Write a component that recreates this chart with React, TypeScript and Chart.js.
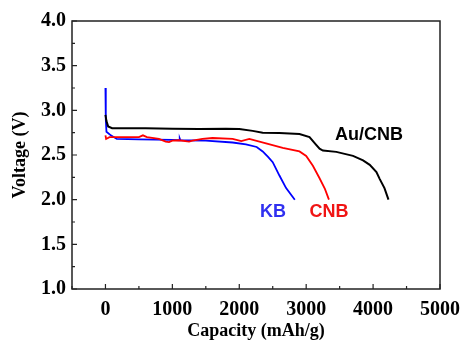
import React, { useEffect, useRef } from "react";
import { Chart, registerables } from "chart.js";

Chart.register(...registerables);

// Au/CNB (black)
const auCap = [0, 15, 40, 100, 300, 600, 1000, 1400, 1800, 2000, 2200, 2350, 2600, 2900, 3050, 3130, 3200, 3250, 3450, 3700, 3850, 3950, 4050, 4100, 4170, 4230];
const auV = [2.95, 2.88, 2.82, 2.8, 2.8, 2.8, 2.795, 2.79, 2.795, 2.79, 2.77, 2.75, 2.745, 2.735, 2.7, 2.63, 2.57, 2.55, 2.535, 2.49, 2.44, 2.39, 2.31, 2.23, 2.13, 2.0];

// CNB (red)
const cnbCap = [0, 10, 60, 300, 500, 560, 620, 800, 900, 950, 1000, 1100, 1250, 1300, 1450, 1600, 1900, 2030, 2150, 2400, 2650, 2900, 3000, 3100, 3200, 3280, 3340];
const cnbV = [2.72, 2.68, 2.7, 2.7, 2.7, 2.72, 2.7, 2.68, 2.65, 2.645, 2.66, 2.665, 2.65, 2.66, 2.68, 2.69, 2.68, 2.655, 2.68, 2.63, 2.58, 2.54, 2.49, 2.38, 2.24, 2.12, 2.0];

// KB (blue)
const kbCap = [0, 5, 15, 80, 170, 500, 1000, 1100, 1110, 1120, 1500, 1900, 2100, 2260, 2350, 2430, 2500, 2600, 2700, 2830];
const kbV = [3.25, 2.9, 2.76, 2.72, 2.68, 2.675, 2.67, 2.665, 2.685, 2.665, 2.66, 2.64, 2.62, 2.59, 2.54, 2.48, 2.42, 2.27, 2.13, 2.0];

const xTickValues = [0, 1000, 2000, 3000, 4000, 5000];
const yTickValues = [1.0, 1.5, 2.0, 2.5, 3.0, 3.5, 4.0];

const seriesLabels = ["Au/CNB", "CNB", "KB"];

// text annotations (data coordinates)
const annotations = [
  { text: "Au/CNB", x: 3939, y: 2.724, color: "#000000" },
  { text: "KB", x: 2504, y: 1.862, color: "#3030f0" },
  { text: "CNB", x: 3341, y: 1.862, color: "#f01414" },
];

const toPts = (xs: number[], ys: number[]) => xs.map((v, i) => ({ x: v, y: ys[i] }));

const framePlugin = {
  id: "frameTicks",
  afterDraw(chart: any) {
    const { ctx, chartArea } = chart;
    const { left, right, top, bottom } = chartArea;
    const xs = chart.scales.x;
    const ys = chart.scales.y;
    ctx.save();
    ctx.strokeStyle = "#222222";
    ctx.lineWidth = 1.5;
    ctx.strokeRect(left, top, right - left, bottom - top);
    ctx.lineWidth = 1.2;
    ctx.beginPath();
    for (let v = -500; v <= 5000; v += 500) {
      const px = xs.getPixelForValue(v);
      const len = v % 1000 === 0 ? 5 : 3;
      ctx.moveTo(px, bottom);
      ctx.lineTo(px, bottom - len);
    }
    for (let v = 1.0; v <= 4.0001; v += 0.25) {
      const py = ys.getPixelForValue(v);
      const len = Math.abs(v * 2 - Math.round(v * 2)) < 1e-6 ? 5 : 3;
      ctx.moveTo(left, py);
      ctx.lineTo(left + len, py);
    }
    ctx.stroke();
    ctx.font = 'bold 18px "Liberation Sans", Arial, sans-serif';
    ctx.textAlign = "center";
    ctx.textBaseline = "middle";
    for (const a of annotations) {
      ctx.fillStyle = a.color;
      ctx.fillText(a.text, xs.getPixelForValue(a.x), ys.getPixelForValue(a.y));
    }
    ctx.restore();
  },
};

export default function App() {
  const ref = useRef<HTMLCanvasElement | null>(null);
  useEffect(() => {
    if (!ref.current) return;
    const serif = '"Liberation Serif", "Times New Roman", serif';
    const chart = new Chart(ref.current, {
      type: "line",
      data: {
        datasets: [
          { label: seriesLabels[0], data: toPts(auCap, auV), borderColor: "#000000", borderWidth: 2, pointRadius: 0, tension: 0 },
          { label: seriesLabels[1], data: toPts(cnbCap, cnbV), borderColor: "#ff0000", borderWidth: 1.8, pointRadius: 0, tension: 0 },
          { label: seriesLabels[2], data: toPts(kbCap, kbV), borderColor: "#0000ff", borderWidth: 1.8, pointRadius: 0, tension: 0 },
        ],
      },
      options: {
        responsive: false,
        animation: false,
        layout: { padding: { left: 0, right: 21, top: 21, bottom: 0 } },
        plugins: { legend: { display: false }, tooltip: { enabled: false } },
        scales: {
          x: {
            type: "linear",
            min: -500,
            max: 5000,
            grid: { display: false, drawTicks: false },
            border: { display: false },
            afterBuildTicks: (s: any) => {
              s.ticks = xTickValues.map((v) => ({ value: v }));
            },
            afterFit: (s: any) => {
              s.height = 56;
              s.paddingLeft = 0;
              s.paddingRight = 0;
            },
            ticks: {
              color: "#000",
              padding: 9,
              maxRotation: 0,
              autoSkip: false,
              font: { family: serif, size: 20, weight: "bold" },
              callback: (v: any) => String(v),
            },
            title: {
              display: true,
              text: "Capacity (mAh/g)",
              color: "#000",
              padding: { top: 0, bottom: 3 },
              font: { family: serif, size: 18, weight: "bold" },
            },
          },
          y: {
            type: "linear",
            min: 1.0,
            max: 4.0,
            grid: { display: false, drawTicks: false },
            border: { display: false },
            afterBuildTicks: (s: any) => {
              s.ticks = yTickValues.map((v) => ({ value: v }));
            },
            afterFit: (s: any) => {
              s.width = 72;
              s.paddingTop = 0;
              s.paddingBottom = 0;
            },
            ticks: {
              color: "#000",
              padding: 6,
              autoSkip: false,
              font: { family: serif, size: 20, weight: "bold" },
              callback: (v: any) => Number(v).toFixed(1),
            },
            title: {
              display: true,
              text: "Voltage (V)",
              color: "#000",
              padding: { top: 10, bottom: 0 },
              font: { family: serif, size: 18, weight: "bold" },
            },
          },
        },
      },
      plugins: [framePlugin],
    } as any);
    return () => chart.destroy();
  }, []);
  return (
    <div style={{ position: "absolute", left: 0, top: 0, width: 461, height: 345, background: "#fff" }}>
      <canvas ref={ref} width={461} height={345} style={{ display: "block" }} />
    </div>
  );
}
